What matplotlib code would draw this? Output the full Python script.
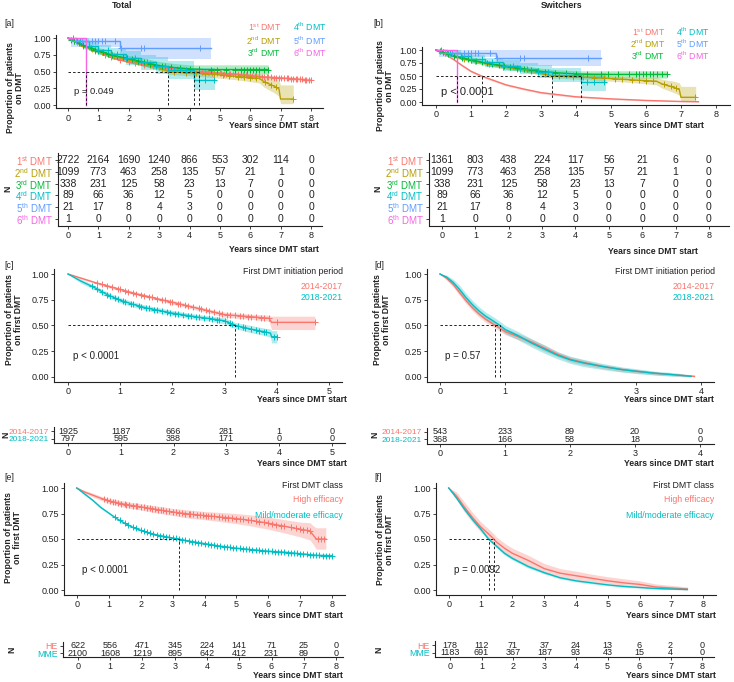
import numpy as np
import matplotlib.pyplot as plt

plt.rcParams['font.family'] = ['Liberation Sans', 'DejaVu Sans']
plt.rcParams['mathtext.fontset'] = 'custom'
plt.rcParams['mathtext.rm'] = 'Liberation Sans'
plt.rcParams['mathtext.bf'] = 'Liberation Sans:bold'

# ---------------- data ----------------
dmt_colors = ['#F8766D', '#B79F00', '#00BA38', '#00BFC4', '#619CFF', '#F564E3']
two_colors = ['#F8766D', '#00BFC4']
dmt_labels = ['1$^{\\rm st}$ DMT', '2$^{\\rm nd}$ DMT', '3$^{\\rm rd}$ DMT',
              '4$^{\\rm th}$ DMT', '5$^{\\rm th}$ DMT', '6$^{\\rm th}$ DMT']
table_labels = ['1$^{\\rm st}$ DMT', '2$^{\\rm nd}$ DMT', '3$^{\\rm rd}$ DMT',
                '4$^{\\rm rd}$ DMT', '5$^{\\rm th}$ DMT', '6$^{\\rm th}$ DMT']

# [a] total, 1st DMT
a1_t = [0, 0.25, 0.5, 0.75, 1, 1.5, 2, 2.5, 3, 3.5, 4, 4.3, 4.6, 5, 5.5, 6, 6.5, 7, 7.5, 8]
a1_s = [1, 0.95, 0.89, 0.84, 0.79, 0.70, 0.64, 0.60, 0.57, 0.54, 0.515, 0.50, 0.49, 0.475, 0.46, 0.44, 0.42, 0.405, 0.39, 0.37]
a1_lo = [1, 0.94, 0.88, 0.83, 0.78, 0.69, 0.63, 0.58, 0.55, 0.52, 0.495, 0.48, 0.47, 0.455, 0.44, 0.42, 0.40, 0.38, 0.36, 0.34]
a1_hi = [1, 0.96, 0.90, 0.85, 0.80, 0.71, 0.65, 0.62, 0.59, 0.56, 0.535, 0.52, 0.51, 0.495, 0.48, 0.46, 0.44, 0.43, 0.42, 0.40]
a1_cens = [0.3, 0.6, 0.9, 1.2, 1.4, 1.7, 2.0, 2.2, 2.5, 2.8, 3.0, 3.3, 3.6, 3.9, 4.1, 4.4, 4.5, 4.6, 4.65,
           4.75, 4.8, 4.9, 5.0, 5.05, 5.15, 5.2, 5.3, 5.35, 5.45, 5.5, 5.6, 5.7, 5.75, 5.85, 5.9, 6.0,
           6.05, 6.15, 6.2, 6.3, 6.4, 6.45, 6.55, 6.6, 6.7, 6.8, 6.85, 6.95, 7.0, 7.1, 7.2, 7.25, 7.35,
           7.4, 7.5, 7.55, 7.65, 7.7, 7.8, 7.85, 7.95, 8.0]
# 2nd DMT (same in both columns)
a2_t = [0, 0.5, 1, 1.5, 2, 2.5, 3, 3.3, 3.6, 4, 4.5, 5, 5.5, 6, 6.3, 6.45, 6.6, 6.8, 6.95, 7.0, 7.42]
a2_s = [1, 0.88, 0.80, 0.73, 0.67, 0.62, 0.56, 0.50, 0.49, 0.48, 0.47, 0.45, 0.43, 0.41, 0.40, 0.35, 0.32, 0.28, 0.24, 0.09, 0.09]
a2_lo = [1, 0.86, 0.77, 0.70, 0.64, 0.58, 0.52, 0.46, 0.45, 0.44, 0.42, 0.40, 0.38, 0.35, 0.33, 0.27, 0.23, 0.18, 0.13, 0.02, 0.02]
a2_hi = [1, 0.90, 0.83, 0.76, 0.70, 0.66, 0.60, 0.54, 0.53, 0.52, 0.52, 0.50, 0.48, 0.47, 0.47, 0.44, 0.42, 0.40, 0.37, 0.30, 0.30]
a2_cens = [0.2, 0.5, 0.8, 1.1, 1.5, 1.9, 2.3, 2.7, 3.1, 3.5, 3.9, 4.2, 4.5, 4.8, 5.1, 5.3, 5.6,
           5.8, 6.0, 6.2, 6.5, 6.7, 6.85, 7.4]
# 3rd DMT
a3_t = [0, 0.5, 1, 1.5, 2, 2.5, 3, 3.5, 4, 4.5, 5, 6.6]
a3_s = [1, 0.89, 0.81, 0.74, 0.69, 0.64, 0.59, 0.56, 0.54, 0.53, 0.53, 0.53]
a3_lo = [1, 0.85, 0.77, 0.69, 0.63, 0.58, 0.53, 0.50, 0.47, 0.46, 0.46, 0.46]
a3_hi = [1, 0.92, 0.86, 0.79, 0.74, 0.70, 0.65, 0.62, 0.60, 0.60, 0.60, 0.60]
a3_cens = [0.1, 0.2, 0.35, 0.5, 0.6, 0.75, 0.9, 1.0, 1.15, 1.3, 1.45, 1.6, 1.8, 1.95, 2.1, 2.3,
           2.5, 2.7, 2.9, 3.1, 3.4, 3.7, 4.0, 4.3, 4.7, 4.9, 5.2, 5.5, 5.7, 5.8, 5.9, 6.0, 6.1,
           6.2, 6.3, 6.45, 6.6]
# 4th DMT
a4_t = [0, 0.3, 0.7, 1.0, 1.4, 1.9, 2.4, 2.9, 3.3, 4.15, 4.85]
a4_s = [1, 0.95, 0.88, 0.82, 0.76, 0.70, 0.64, 0.58, 0.52, 0.38, 0.38]
a4_lo = [1, 0.90, 0.81, 0.74, 0.67, 0.60, 0.53, 0.46, 0.39, 0.22, 0.22]
a4_hi = [1, 1.0, 0.95, 0.90, 0.85, 0.80, 0.75, 0.71, 0.66, 0.56, 0.56]
a4_cens = [0.15, 0.4, 0.7, 1.0, 1.3, 1.6, 1.9, 2.2, 2.4, 2.6, 2.9, 3.2, 3.5, 3.7, 3.9, 4.3, 4.5, 4.8]
# 5th DMT
a5_t = [0, 0.08, 1.7, 4.7]
a5_s = [1, 0.95, 0.85, 0.85]
a5_lo = [1, 0.86, 0.69, 0.69]
a5_hi = [1, 1, 1, 1]
a5_cens = [0.27, 0.45, 0.6, 0.8, 0.9, 1.0, 1.1, 1.2, 1.55, 1.75, 2.4, 2.5, 4.35]
# 6th DMT
a6_t = [0, 0.6]
a6_s = [1, 0]

# [b] switchers, 1st DMT
b1_t = [0, 0.1, 0.25, 0.5, 0.75, 1, 1.3, 1.5, 2, 2.5, 3, 3.5, 4, 4.5, 5, 5.5, 6, 6.5, 7, 7.5]
b1_s = [1, 0.97, 0.92, 0.82, 0.70, 0.59, 0.50, 0.45, 0.33, 0.25, 0.18, 0.14, 0.10, 0.08, 0.06, 0.045, 0.03, 0.02, 0.01, 0.005]
b1_lo = [1, 0.96, 0.90, 0.80, 0.68, 0.57, 0.48, 0.43, 0.31, 0.23, 0.16, 0.12, 0.085, 0.065, 0.045, 0.033, 0.02, 0.01, 0.003, 0.0]
b1_hi = [1, 0.98, 0.94, 0.84, 0.72, 0.61, 0.52, 0.47, 0.35, 0.27, 0.20, 0.16, 0.115, 0.095, 0.075, 0.06, 0.045, 0.035, 0.025, 0.02]

a_medians = [4.3, 3.3, 4.15, 0.6]
b_medians = [1.3, 3.3, 4.15, 0.6]

a_first_risk = [2722, 2164, 1690, 1240, 866, 553, 302, 114, 0]
b_first_risk = [1361, 803, 438, 224, 117, 56, 21, 6, 0]
later_risk = [[1099, 773, 463, 258, 135, 57, 21, 1, 0],
              [338, 231, 125, 58, 23, 13, 7, 0, 0],
              [89, 66, 36, 12, 5, 0, 0, 0, 0],
              [21, 17, 8, 4, 3, 0, 0, 0, 0],
              [1, 0, 0, 0, 0, 0, 0, 0, 0]]
years8 = [0, 1, 2, 3, 4, 5, 6, 7, 8]

# [c] total by initiation period
period_labels = ['2014-2017', '2018-2021']
c1_t = [0, 0.25, 0.5, 0.75, 1, 1.25, 1.5, 1.75, 2, 2.25, 2.5, 2.75, 3, 3.25, 3.5, 3.85, 3.9, 4.73]
c1_s = [1, 0.96, 0.92, 0.885, 0.85, 0.815, 0.785, 0.755, 0.725, 0.695, 0.665, 0.635, 0.605, 0.595, 0.585, 0.57, 0.53, 0.53]
c1_lo = [1, 0.95, 0.91, 0.87, 0.835, 0.80, 0.77, 0.74, 0.705, 0.675, 0.645, 0.615, 0.58, 0.57, 0.56, 0.54, 0.46, 0.46]
c1_hi = [1, 0.97, 0.93, 0.90, 0.865, 0.83, 0.80, 0.77, 0.745, 0.715, 0.685, 0.655, 0.63, 0.62, 0.61, 0.60, 0.59, 0.59]
c1_cens = [0.55, 0.65, 0.75, 0.85, 0.95, 1.0, 1.1, 1.15, 1.25, 1.3, 1.4, 1.45, 1.55, 1.6, 1.7, 1.8,
           1.85, 1.95, 2.0, 2.1, 2.15, 2.25, 2.3, 2.4, 2.5, 2.55, 2.65, 2.7, 2.8, 2.9, 2.95, 3.05,
           3.1, 3.2, 3.3, 3.35, 3.45, 3.5, 3.6, 3.7, 3.75, 3.85, 4.0, 4.73]
c2_t = [0, 0.25, 0.5, 0.75, 1, 1.25, 1.5, 1.75, 2, 2.25, 2.5, 2.75, 3, 3.2, 3.5, 3.75, 3.88, 3.9, 4.0]
c2_s = [1, 0.93, 0.87, 0.80, 0.745, 0.705, 0.67, 0.645, 0.62, 0.60, 0.58, 0.565, 0.545, 0.50, 0.465, 0.44, 0.425, 0.39, 0.39]
c2_lo = [1, 0.91, 0.85, 0.775, 0.72, 0.68, 0.645, 0.62, 0.595, 0.575, 0.555, 0.54, 0.515, 0.47, 0.43, 0.405, 0.385, 0.33, 0.33]
c2_hi = [1, 0.95, 0.89, 0.825, 0.77, 0.73, 0.695, 0.67, 0.645, 0.625, 0.605, 0.59, 0.575, 0.53, 0.50, 0.475, 0.465, 0.45, 0.45]
c2_cens = [0.45, 0.55, 0.65, 0.75, 0.8, 0.9, 0.95, 1.05, 1.1, 1.2, 1.25, 1.35, 1.4, 1.5, 1.55, 1.65,
           1.7, 1.8, 1.9, 1.95, 2.05, 2.1, 2.2, 2.3, 2.35, 2.45, 2.5, 2.6, 2.7, 2.75, 2.85, 2.9,
           3.0, 3.1, 3.15, 3.25, 3.35, 3.4, 3.5, 3.6, 3.65, 3.75, 3.8, 3.95, 4.0]
c_medians = [3.2]
c_risk = [[1925, 1187, 666, 281, 1, 0], [797, 595, 388, 171, 0, 0]]
years5 = [0, 1, 2, 3, 4, 5]

# [d] switchers by initiation period
d1_t = [0, 0.1, 0.2, 0.3, 0.4, 0.5, 0.6, 0.7, 0.8, 0.85, 0.9, 1.0, 1.2, 1.4, 1.6, 1.8, 2.0, 2.2, 2.5, 2.8, 3.0, 3.3, 3.6, 3.9]
d1_s = [1, 0.96, 0.90, 0.82, 0.74, 0.67, 0.61, 0.56, 0.52, 0.50, 0.48, 0.44, 0.39, 0.34, 0.28, 0.22, 0.17, 0.14, 0.10, 0.07, 0.055, 0.035, 0.02, 0.005]
d1_lo = [1, 0.94, 0.875, 0.79, 0.71, 0.64, 0.58, 0.53, 0.49, 0.47, 0.45, 0.41, 0.36, 0.31, 0.25, 0.195, 0.145, 0.115, 0.08, 0.05, 0.038, 0.02, 0.008, 0.0]
d1_hi = [1, 0.98, 0.925, 0.85, 0.77, 0.70, 0.64, 0.59, 0.55, 0.53, 0.51, 0.47, 0.42, 0.37, 0.31, 0.245, 0.195, 0.165, 0.12, 0.09, 0.072, 0.05, 0.032, 0.015]
d2_t = [0, 0.1, 0.2, 0.3, 0.4, 0.5, 0.6, 0.7, 0.8, 0.92, 1.0, 1.2, 1.4, 1.6, 1.8, 2.0, 2.2, 2.5, 2.8, 3.0, 3.3, 3.6, 3.85]
d2_s = [1, 0.97, 0.92, 0.85, 0.77, 0.70, 0.64, 0.59, 0.55, 0.50, 0.46, 0.40, 0.33, 0.27, 0.21, 0.165, 0.135, 0.10, 0.07, 0.055, 0.035, 0.02, 0.005]
d2_lo = [1, 0.95, 0.89, 0.81, 0.73, 0.66, 0.60, 0.55, 0.51, 0.46, 0.42, 0.36, 0.29, 0.23, 0.175, 0.13, 0.10, 0.07, 0.045, 0.032, 0.016, 0.005, 0.0]
d2_hi = [1, 0.99, 0.95, 0.89, 0.81, 0.74, 0.68, 0.63, 0.59, 0.54, 0.50, 0.44, 0.37, 0.31, 0.245, 0.20, 0.17, 0.13, 0.095, 0.08, 0.055, 0.04, 0.02]
d_medians = [0.85, 0.92]
d_risk = [[543, 233, 89, 20, 0], [368, 166, 58, 18, 0]]
years4 = [0, 1, 2, 3, 4]

# [e] total by DMT class
class_labels = ['High efficacy', 'Mild/moderate efficacy']
class_short = ['HE', 'MME']
e1_t = [0, 0.25, 0.5, 0.75, 1, 1.5, 2, 2.5, 3, 3.5, 4, 4.5, 5, 5.5, 6, 6.5, 7, 7.3, 7.4, 7.5, 7.8]
e1_s = [1, 0.96, 0.93, 0.90, 0.875, 0.84, 0.815, 0.79, 0.765, 0.745, 0.73, 0.715, 0.70, 0.68, 0.655, 0.625, 0.595, 0.58, 0.54, 0.50, 0.50]
e1_lo = [1, 0.945, 0.91, 0.88, 0.85, 0.81, 0.785, 0.755, 0.73, 0.705, 0.69, 0.67, 0.65, 0.625, 0.595, 0.56, 0.52, 0.49, 0.45, 0.40, 0.40]
e1_hi = [1, 0.975, 0.95, 0.92, 0.90, 0.87, 0.845, 0.825, 0.80, 0.785, 0.77, 0.76, 0.75, 0.735, 0.715, 0.69, 0.665, 0.66, 0.63, 0.61, 0.61]
e1_cens = [0.85, 0.95, 1.05, 1.15, 1.2, 1.3, 1.4, 1.5, 1.55, 1.65, 1.75, 1.85, 1.9, 2.0, 2.1, 2.2,
           2.3, 2.35, 2.45, 2.55, 2.65, 2.7, 2.8, 2.9, 3.0, 3.1, 3.2, 3.3, 3.4, 3.5, 3.55, 3.65,
           3.75, 3.85, 3.95, 4.05, 4.1, 4.2, 4.3, 4.45, 4.55, 4.65, 4.75, 4.85, 5.0, 5.1, 5.2,
           5.35, 5.45, 5.6, 5.7, 5.85, 6.0, 6.1, 6.25, 6.4, 6.5, 6.7, 6.85, 7.0, 7.1, 7.2, 7.3,
           7.55, 7.65, 7.75]
e2_t = [0, 0.25, 0.5, 0.75, 1, 1.25, 1.5, 1.75, 2, 2.5, 3, 3.2, 3.5, 4, 4.5, 5, 5.5, 6, 6.5, 7, 7.5, 8.0]
e2_s = [1, 0.94, 0.88, 0.81, 0.755, 0.70, 0.655, 0.615, 0.585, 0.54, 0.51, 0.50, 0.48, 0.455, 0.43, 0.41, 0.395, 0.38, 0.37, 0.355, 0.34, 0.335]
e2_lo = [1, 0.93, 0.87, 0.80, 0.745, 0.69, 0.645, 0.605, 0.575, 0.53, 0.50, 0.49, 0.47, 0.445, 0.42, 0.40, 0.383, 0.367, 0.355, 0.34, 0.325, 0.318]
e2_hi = [1, 0.95, 0.89, 0.82, 0.765, 0.71, 0.665, 0.625, 0.595, 0.55, 0.52, 0.51, 0.49, 0.465, 0.44, 0.42, 0.407, 0.393, 0.385, 0.37, 0.355, 0.352]
e2_cens = [1.2, 1.35, 1.5, 1.6, 1.75, 1.85, 2.0, 2.1, 2.2, 2.3, 2.4, 2.5, 2.6, 2.7, 2.8, 2.9, 3.0,
           3.1, 3.2, 3.3, 3.4, 3.5, 3.6, 3.7, 3.8, 3.9, 4.0, 4.1, 4.2, 4.3, 4.4, 4.5, 4.6, 4.7,
           4.8, 4.9, 5.0, 5.1, 5.2, 5.3, 5.4, 5.5, 5.6, 5.7, 5.8, 5.9, 6.0, 6.1, 6.2, 6.3, 6.4,
           6.5, 6.6, 6.7, 6.8, 6.9, 7.0, 7.1, 7.2, 7.3, 7.4, 7.5, 7.6, 7.7, 7.8, 7.9, 8.0]
e_medians = [3.2]
e_risk = [[622, 556, 471, 345, 224, 141, 71, 25, 0], [2100, 1608, 1219, 895, 642, 412, 231, 89, 0]]

# [f] switchers by DMT class
f1_t = [0, 0.25, 0.5, 0.75, 1, 1.25, 1.42, 1.5, 1.75, 2, 2.5, 3, 3.5, 4, 4.5, 5, 5.5, 6, 6.5, 7, 7.5]
f1_s = [1, 0.92, 0.81, 0.71, 0.62, 0.55, 0.50, 0.47, 0.41, 0.36, 0.29, 0.21, 0.165, 0.14, 0.115, 0.09, 0.07, 0.055, 0.03, 0.02, 0.01]
f1_lo = [1, 0.88, 0.76, 0.66, 0.57, 0.50, 0.45, 0.42, 0.36, 0.31, 0.24, 0.165, 0.125, 0.10, 0.08, 0.06, 0.04, 0.03, 0.012, 0.005, 0.0]
f1_hi = [1, 0.96, 0.86, 0.76, 0.67, 0.60, 0.55, 0.52, 0.46, 0.41, 0.34, 0.26, 0.21, 0.185, 0.155, 0.13, 0.11, 0.09, 0.06, 0.045, 0.03]
f2_t = [0, 0.25, 0.5, 0.75, 1, 1.25, 1.5, 1.75, 2, 2.5, 3, 3.5, 4, 4.5, 5, 5.5, 6, 6.5, 7, 7.5]
f2_s = [1, 0.90, 0.79, 0.69, 0.60, 0.50, 0.43, 0.36, 0.31, 0.23, 0.17, 0.12, 0.09, 0.07, 0.05, 0.035, 0.025, 0.015, 0.01, 0.005]
f2_lo = [1, 0.89, 0.775, 0.675, 0.585, 0.485, 0.415, 0.345, 0.295, 0.215, 0.158, 0.11, 0.08, 0.06, 0.042, 0.028, 0.018, 0.01, 0.005, 0.0]
f2_hi = [1, 0.91, 0.805, 0.705, 0.615, 0.515, 0.445, 0.375, 0.325, 0.245, 0.182, 0.13, 0.10, 0.08, 0.058, 0.042, 0.032, 0.022, 0.015, 0.01]
f_medians = [1.25, 1.42]
f_risk = [[178, 112, 71, 37, 24, 13, 6, 2, 0], [1183, 691, 367, 187, 93, 43, 15, 4, 0]]

# ---------------- figure ----------------
W, H = 734, 682
fig = plt.figure(figsize=(W / 100, H / 100), dpi=100)
INK = '#222222'


def px_axes(l, t, r, b):
    return fig.add_axes([l / W, 1 - b / H, (r - l) / W, (b - t) / H])


def ftext(x, y, s, **kw):
    kw.setdefault('va', 'center')
    fig.text(x / W, 1 - y / H, s, **kw)


def style(ax):
    for side in ['top', 'right']:
        ax.spines[side].set_visible(False)
    for side in ['left', 'bottom']:
        ax.spines[side].set_linewidth(0.8)
        ax.spines[side].set_color(INK)
    ax.tick_params(length=2.5, width=0.6, color=INK, labelsize=6.5, labelcolor=INK, pad=1.2)
    ax.patch.set_alpha(0)


def curve(ax, t, s, lo, hi, color, cens=None, step=False):
    ds = 'steps-post' if step else 'default'
    if lo is not None:
        ax.fill_between(t, lo, hi, color=color, alpha=0.3, lw=0, step='post' if step else None)
    ax.plot(t, s, color=color, lw=1.0, drawstyle=ds, solid_joinstyle='miter')
    if cens:
        if step:
            idx = np.searchsorted(t, cens, side='right') - 1
            cy = np.array(s)[idx]
        else:
            cy = np.interp(cens, t, s)
        ax.plot(cens, cy, '+', color=color, ms=4, mew=0.7, ls='none')


def medians(ax, meds):
    ax.plot([0, max(meds)], [0.5, 0.5], color='black', lw=0.6, ls=(0, (3, 2.5)))
    for m in meds:
        ax.plot([m, m], [0, 0.5], color='black', lw=0.6, ls=(0, (3, 2.5)))


def surv_axes(ax, xlim, xticks):
    style(ax)
    ax.set_xlim(*xlim)
    ax.set_ylim(-0.05, 1.05)
    ax.set_xticks(xticks)
    ax.set_yticks([0, 0.25, 0.5, 0.75, 1])
    ax.set_yticklabels(['0.00', '0.25', '0.50', '0.75', '1.00'])


def risk_table(ax, xs, rows, labels, colors, xlim, ylim, size=7.5, lab_size=7):
    style(ax)
    for i, row in enumerate(rows):
        for x, n in zip(xs, row):
            ax.text(x, i, str(n), ha='center', va='center', fontsize=size, color=INK)
    ax.set_xlim(*xlim)
    ax.set_ylim(*ylim)
    ax.set_xticks(xs)
    ax.set_yticks(range(len(rows)))
    ax.set_yticklabels(labels, fontsize=lab_size)
    for lab, c in zip(ax.get_yticklabels(), colors):
        lab.set_color(c)


# ---- [a] ----
ax = px_axes(56, 34.7, 323, 108.4)
surv_axes(ax, (-0.4, 8.4), years8)
curve(ax, a1_t, a1_s, a1_lo, a1_hi, dmt_colors[0], a1_cens)
curve(ax, a2_t, a2_s, a2_lo, a2_hi, dmt_colors[1], a2_cens)
curve(ax, a3_t, a3_s, a3_lo, a3_hi, dmt_colors[2], a3_cens)
curve(ax, a4_t, a4_s, a4_lo, a4_hi, dmt_colors[3], a4_cens, step=True)
curve(ax, a5_t, a5_s, a5_lo, a5_hi, dmt_colors[4], a5_cens, step=True)
curve(ax, a6_t, a6_s, None, None, dmt_colors[5], step=True)
medians(ax, a_medians)
ax.text(0.2, 0.2, 'p = 0.049', fontsize=6.8, color=INK, va='center')

# ---- [b] ----
ax = px_axes(422, 47.4, 730, 104.6)
surv_axes(ax, (-0.4, 8.4), years8)
curve(ax, b1_t, b1_s, b1_lo, b1_hi, dmt_colors[0])
curve(ax, a2_t, a2_s, a2_lo, a2_hi, dmt_colors[1], a2_cens)
curve(ax, a3_t, a3_s, a3_lo, a3_hi, dmt_colors[2], a3_cens)
curve(ax, a4_t, a4_s, a4_lo, a4_hi, dmt_colors[3], a4_cens, step=True)
curve(ax, a5_t, a5_s, a5_lo, a5_hi, dmt_colors[4], a5_cens, step=True)
curve(ax, a6_t, a6_s, None, None, dmt_colors[5], step=True)
medians(ax, b_medians)
ax.text(0.15, 0.2, 'p < 0.0001', fontsize=8, color=INK, va='center')

# legends for [a] and [b]
for (c1x, c2x, ys) in [(281, 326, (27, 41, 53)), (665, 709, (32, 44, 56))]:
    for k in range(3):
        ftext(c1x, ys[k], dmt_labels[k], ha='right', fontsize=6.3, color=dmt_colors[k])
        ftext(c2x, ys[k], dmt_labels[k + 3], ha='right', fontsize=6.3, color=dmt_colors[k + 3])

# risk tables [a] [b]
ax = px_axes(58, 153, 322, 226)
risk_table(ax, years8, [a_first_risk] + later_risk, table_labels, dmt_colors, (-0.33, 8.36), (5.59, -0.6))
ax = px_axes(429, 153, 729, 226)
risk_table(ax, years8, [b_first_risk] + later_risk, table_labels, dmt_colors, (-0.39, 8.6), (5.59, -0.6))

# ---- [c] ----
ax = px_axes(54, 268.9, 342, 382)
surv_axes(ax, (-0.27, 5.25), years5)
curve(ax, c1_t, c1_s, c1_lo, c1_hi, two_colors[0], c1_cens)
curve(ax, c2_t, c2_s, c2_lo, c2_hi, two_colors[1], c2_cens)
medians(ax, c_medians)
ax.text(0.1, 0.2, 'p < 0.0001', fontsize=7, color=INK, va='center')

# ---- [d] ----
ax = px_axes(427, 268.9, 714, 382)
surv_axes(ax, (-0.2, 4.2), years4)
curve(ax, d1_t, d1_s, d1_lo, d1_hi, two_colors[0])
curve(ax, d2_t, d2_s, d2_lo, d2_hi, two_colors[1])
medians(ax, d_medians)
ax.text(0.08, 0.2, 'p = 0.57', fontsize=7, color=INK, va='center')

ax = px_axes(54, 427, 345, 443)
risk_table(ax, years5, c_risk, period_labels, two_colors, (-0.265, 5.25), (1.64, -0.64), 6.5, 6.0)
ax = px_axes(427, 428, 714, 444)
risk_table(ax, years4, d_risk, period_labels, two_colors, (-0.2, 4.215), (1.71, -0.57), 6.5, 6.0)

# ---- [e] ----
ax = px_axes(64, 482.9, 345, 595.1)
surv_axes(ax, (-0.4, 8.4), years8)
curve(ax, e1_t, e1_s, e1_lo, e1_hi, two_colors[0], e1_cens)
curve(ax, e2_t, e2_s, e2_lo, e2_hi, two_colors[1], e2_cens)
medians(ax, e_medians)
ax.text(0.15, 0.2, 'p < 0.0001', fontsize=7, color=INK, va='center')

# ---- [f] ----
ax = px_axes(436, 482.9, 716, 595.1)
surv_axes(ax, (-0.4, 8.4), years8)
curve(ax, f1_t, f1_s, f1_lo, f1_hi, two_colors[0])
curve(ax, f2_t, f2_s, f2_lo, f2_hi, two_colors[1])
medians(ax, f_medians)
ax.text(0.15, 0.2, 'p = 0.0092', fontsize=7, color=INK, va='center')

ax = px_axes(63, 642, 343, 657)
risk_table(ax, years8, e_risk, class_short, two_colors, (-0.465, 8.217), (1.57, -0.57), 6.5, 6.3)
ax = px_axes(435, 641, 714, 656.7)
risk_table(ax, years8, f_risk, class_short, two_colors, (-0.476, 8.38), (1.52, -0.52), 6.5, 6.3)

# legends for c-f
for x, ys, title, labs in [(343, (272, 286, 297.5), 'First DMT initiation period', period_labels),
                           (715, (272, 286, 297.5), 'First DMT initiation period', period_labels),
                           (343, (486, 500, 515), 'First DMT class', class_labels),
                           (714, (486, 500, 515), 'First DMT class', class_labels)]:
    ftext(x, ys[0], title, ha='right', fontsize=6.3, color=INK)
    ftext(x, ys[1], labs[0], ha='right', fontsize=6.3, color=two_colors[0])
    ftext(x, ys[2], labs[1], ha='right', fontsize=6.3, color=two_colors[1])

# titles, panel tags, axis titles
ftext(122, 6, 'Total', ha='center', fontsize=6.3, fontweight='bold', color=INK)
ftext(562, 6, 'Switchers', ha='center', fontsize=6.3, fontweight='bold', color=INK)
for x, y, tag in [(4, 24, '[a]'), (373, 24, '[b]'), (4, 265, '[c]'),
                  (374, 265, '[d]'), (4, 477, '[e]'), (374, 477, '[f]')]:
    ftext(x, y, tag, ha='left', fontsize=6.3, color=INK)

for x, y in [(319, 126), (319, 249), (704, 126), (698, 251), (347, 400), (347, 464),
             (714, 400), (714, 464), (343, 615), (343, 676), (716, 615), (716, 676)]:
    ftext(x, y, 'Years since DMT start', ha='right', fontsize=6.2, fontweight='bold', color=INK)

for x, y, txt in [(15, 88, 'Proportion of patients\non DMT'), (385, 86, 'Proportion of patients\non DMT'),
                  (14, 320, 'Proportion of patients\non first DMT'), (382, 320, 'Proportion of patients\non first DMT'),
                  (13, 538, 'Proportion of patients\non  first DMT'), (385, 540, 'Proportion of patients\non first DMT')]:
    ftext(x, y, txt, ha='center', rotation=90, fontsize=6.2, fontweight='bold', color=INK,
          linespacing=1.1, multialignment='center')

for x, y in [(8, 189), (378, 189), (6, 435), (375, 435), (12, 650), (379, 650)]:
    ftext(x, y, 'N', ha='center', rotation=90, fontsize=6.2, fontweight='bold', color=INK)

fig.savefig('out.png', dpi=100)
